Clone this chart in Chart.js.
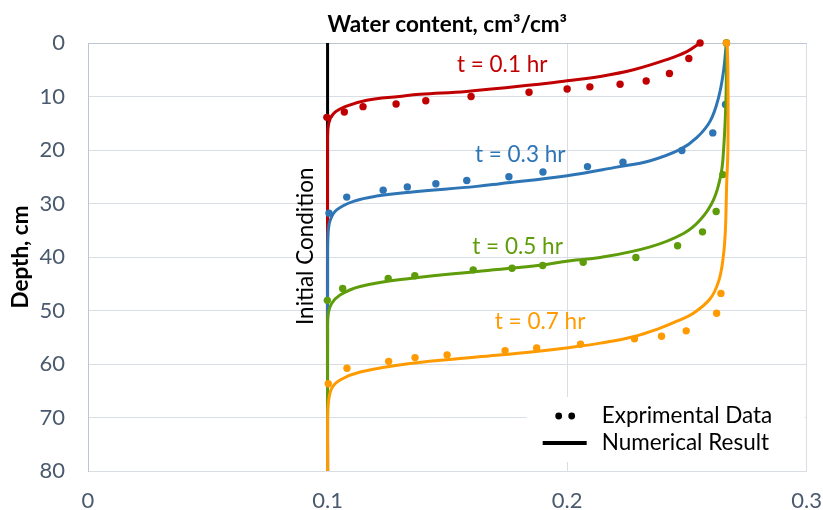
<!DOCTYPE html>
<html>
<head>
<meta charset="utf-8">
<script src="https://cdn.jsdelivr.net/npm/chart.js@4.4.1/dist/chart.umd.min.js"></script>
<style>
  html, body { margin: 0; padding: 0; background: #fff; }
</style>
</head>
<body>
<canvas id="moistureChart" width="823" height="510"></canvas>
<script>
// axis ticks
const thetaTicks = [0, 0.1, 0.2, 0.3];
const depthTicks = [0, 10, 20, 30, 40, 50, 60, 70, 80];

// initial condition
const initTheta = [0.1, 0.1];
const initDepth = [0, 80];

// t = 0.1 hr
const num01Theta = [0.2555, 0.25, 0.2416, 0.2277, 0.2138, 0.2, 0.186, 0.158, 0.1386, 0.130, 0.1164, 0.1073, 0.1025, 0.1005, 0.1, 0.1];
const num01Depth = [0, 1.6, 3.1, 5.0, 6.25, 7.05, 7.8, 9.05, 9.6, 10.0, 10.7, 11.9, 13.2, 15, 18, 80];
const exp01Theta = [0.0997, 0.107, 0.1148, 0.1286, 0.141, 0.1599, 0.1841, 0.2, 0.2095, 0.2221, 0.233, 0.2427, 0.2508, 0.2555];
const exp01Depth = [13.9, 12.9, 11.9, 11.4, 10.8, 10.0, 9.2, 8.6, 8.2, 7.7, 7.1, 5.7, 2.9, 0];

// t = 0.3 hr
const num03Theta = [0.2665, 0.2664, 0.2653, 0.2632, 0.2597, 0.2541, 0.2472, 0.2347, 0.2207, 0.2, 0.172, 0.1623, 0.1344, 0.1205, 0.1108, 0.1038, 0.1012, 0.1003, 0.1, 0.1];
const num03Depth = [0, 0.3, 5.2, 10.2, 14.6, 17.7, 19.9, 22.0, 23.2, 24.8, 26.3, 26.8, 27.9, 28.6, 29.6, 31.2, 33.0, 35, 40, 80];
const exp03Theta = [0.1006, 0.108, 0.1232, 0.1333, 0.1452, 0.1581, 0.1757, 0.1899, 0.2085, 0.2233, 0.2479, 0.2608, 0.2661, 0.2665];
const exp03Depth = [31.8, 28.8, 27.5, 26.9, 26.3, 25.7, 25.0, 24.1, 23.1, 22.3, 20.1, 16.8, 11.5, 0];

// t = 0.5 hr
const num05Theta = [0.2665, 0.2665, 0.2662, 0.2653, 0.2642, 0.2611, 0.2555, 0.2486, 0.2347, 0.2138, 0.2013, 0.186, 0.1623, 0.1344, 0.1136, 0.1052, 0.1017, 0.1003, 0.1, 0.1];
const num05Depth = [0, 5, 12, 20, 24.6, 29.3, 33.1, 35.6, 38.1, 40.1, 40.7, 41.7, 42.7, 44.0, 45.5, 47.1, 48.7, 50.5, 54, 80];
const exp05Theta = [0.0999, 0.1063, 0.1253, 0.1364, 0.1608, 0.177, 0.1898, 0.2067, 0.2287, 0.2461, 0.2565, 0.2622, 0.265, 0.2665];
const exp05Depth = [48.1, 45.9, 44.0, 43.5, 42.4, 42.1, 41.6, 41.0, 40.1, 37.9, 35.3, 31.5, 24.6, 0];

// t = 0.7 hr
const num07Theta = [0.2668, 0.2671, 0.2671, 0.2666, 0.266, 0.265, 0.2632, 0.2597, 0.2527, 0.2458, 0.2388, 0.2277, 0.2138, 0.2013, 0.186, 0.1623, 0.1344, 0.1136, 0.1052, 0.1017, 0.1003, 0.1, 0.1];
const num07Depth = [0, 5, 20, 26.2, 35.6, 40.6, 44.6, 47.8, 50.5, 52.0, 53.3, 54.9, 56.1, 56.9, 57.7, 58.7, 59.9, 61.5, 63.0, 64.6, 67.4, 71, 80];
const exp07Theta = [0.1003, 0.1081, 0.1255, 0.1365, 0.1499, 0.1741, 0.1873, 0.2056, 0.2281, 0.2394, 0.2497, 0.2624, 0.2642, 0.2665];
const exp07Depth = [63.7, 60.8, 59.5, 58.8, 58.3, 57.5, 57.0, 56.3, 55.3, 54.8, 53.8, 50.5, 46.8, 0];

// curve labels, placed at (theta, depth)
const labelText = ['t = 0.1 hr', 't = 0.3 hr', 't = 0.5 hr', 't = 0.7 hr'];
const labelTheta = [0.1729, 0.1804, 0.1793, 0.1887];
const labelDepth = [4.1, 20.9, 38.1, 52.1];

const colors = ['#C00000', '#2E75B6', '#5E9C0A', '#FF9A00'];
const FONT = 'Lato, "Open Sans", sans-serif';

function pts(theta, depth) {
    return theta.map((t, i) => ({ x: t, y: depth[i] }));
}

function curve(theta, depth, color, order) {
    return {
        data: pts(theta, depth),
        showLine: true,
        borderColor: color,
        borderWidth: 3,
        pointRadius: 0,
        tension: 0.4,
        order: order
    };
}

function dots(theta, depth, color, order) {
    return {
        data: pts(theta, depth),
        showLine: false,
        backgroundColor: color,
        borderColor: color,
        pointRadius: 3.7,
        borderWidth: 0,
        clip: false,
        order: order
    };
}

// text on top of the plot: title, curve labels, initial condition, legend
const overlayText = {
    id: 'overlayText',
    afterDraw(chart) {
        const { ctx, chartArea, scales: { x, y } } = chart;
        ctx.save();
        ctx.textBaseline = 'middle';

        ctx.fillStyle = '#000';
        ctx.textAlign = 'center';
        ctx.font = 'bold 22.5px ' + FONT;
        ctx.fillText('Water content, cm³/cm³', (chartArea.left + chartArea.right) / 2, 25);

        ctx.font = '22.5px ' + FONT;
        labelText.forEach((txt, i) => {
            ctx.fillStyle = colors[i];
            ctx.fillText(txt, x.getPixelForValue(labelTheta[i]), y.getPixelForValue(labelDepth[i]));
        });

        ctx.save();
        ctx.fillStyle = '#000';
        ctx.translate(x.getPixelForValue(0.091), y.getPixelForValue(38));
        ctx.rotate(-Math.PI / 2);
        ctx.fillText('Initial Condition', 0, 0);
        ctx.restore();

        // legend box
        const lx = chartArea.right - 280;
        const ly = chartArea.bottom - 74;
        ctx.fillStyle = '#fff';
        ctx.fillRect(lx, ly, 278, 65);

        ctx.fillStyle = '#000';
        ctx.beginPath();
        ctx.arc(lx + 32, ly + 19, 3.4, 0, Math.PI * 2);
        ctx.arc(lx + 45, ly + 19, 3.4, 0, Math.PI * 2);
        ctx.fill();

        ctx.strokeStyle = '#000';
        ctx.lineWidth = 4;
        ctx.beginPath();
        ctx.moveTo(lx + 16, ly + 46);
        ctx.lineTo(lx + 60, ly + 46);
        ctx.stroke();

        ctx.textAlign = 'left';
        ctx.fillText('Exprimental Data', lx + 75, ly + 19);
        ctx.fillText('Numerical Result', lx + 75, ly + 46);
        ctx.restore();
    }
};

const ctx = document.getElementById('moistureChart').getContext('2d');
const moistureChart = new Chart(ctx, {
    type: 'scatter',
    data: {
        datasets: [
            curve(initTheta, initDepth, '#000000', 20),
            curve(num01Theta, num01Depth, colors[0], 18),
            dots(exp01Theta, exp01Depth, colors[0], 17),
            curve(num03Theta, num03Depth, colors[1], 16),
            dots(exp03Theta, exp03Depth, colors[1], 15),
            curve(num05Theta, num05Depth, colors[2], 14),
            dots(exp05Theta, exp05Depth, colors[2], 13),
            curve(num07Theta, num07Depth, colors[3], 12),
            dots(exp07Theta, exp07Depth, colors[3], 11)
        ]
    },
    options: {
        responsive: false,
        animation: false,
        layout: { padding: { top: 43, right: 0, bottom: 0, left: 0 } },
        plugins: {
            legend: { display: false },
            tooltip: { enabled: false }
        },
        scales: {
            x: {
                type: 'linear',
                min: 0,
                max: 0.3,
                afterBuildTicks: s => { s.ticks = thetaTicks.map(v => ({ value: v })); },
                afterFit: s => {
                    s.height = 39;
                    s.paddingLeft = 0;
                    s.paddingRight = 16.3;
                },
                grid: { color: '#d9dde4', drawTicks: false },
                border: { color: '#d9dde4' },
                ticks: {
                    padding: 17,
                    color: '#4a5a6e',
                    font: { family: FONT, size: 22 }
                }
            },
            y: {
                type: 'linear',
                reverse: true,
                min: 0,
                max: 80,
                afterBuildTicks: s => { s.ticks = depthTicks.map(v => ({ value: v })); },
                afterFit: s => { s.width = 88; },
                grid: {
                    color: c => (c.tick && c.tick.value === 0 ? '#bcc5d2' : '#d9dde4'),
                    drawTicks: false
                },
                border: { color: '#bcc5d2' },
                title: {
                    display: true,
                    text: 'Depth, cm',
                    color: '#000',
                    font: { family: FONT, size: 22.5, weight: 'bold' },
                    padding: { top: 7, bottom: 0 }
                },
                ticks: {
                    padding: 23,
                    color: '#4a5a6e',
                    font: { family: FONT, size: 22 }
                }
            }
        }
    },
    plugins: [overlayText]
});
</script>
</body>
</html>
